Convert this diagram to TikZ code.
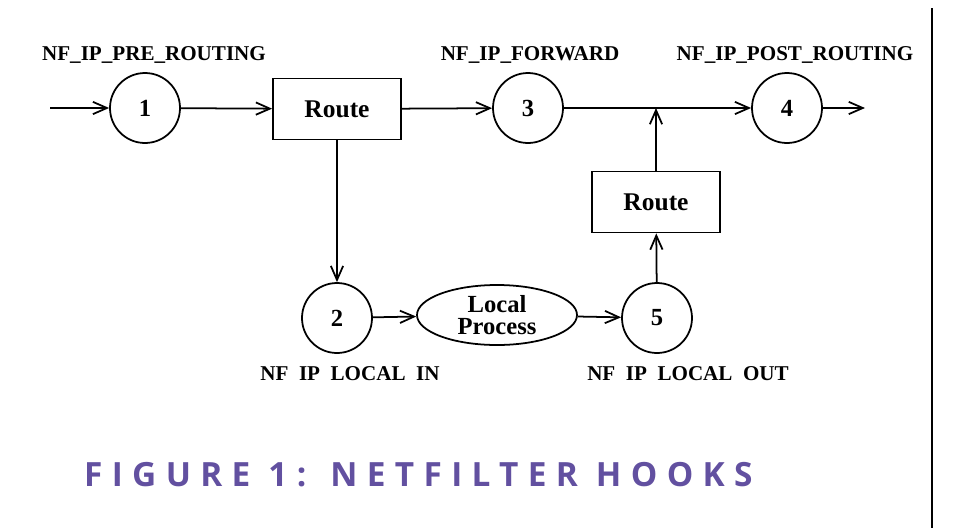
\documentclass[tikz,border=0pt]{standalone}
\usepackage{fontspec}
\setmainfont{Liberation Serif}
\newfontfamily\capfont[LetterSpace=28]{Open Sans}
\usetikzlibrary{shapes.geometric,arrows.meta}
\definecolor{capcol}{RGB}{98,80,160}
\begin{document}
\begin{tikzpicture}[x=0.02cm,y=-0.02cm,
  hook/.style={circle,draw,line width=1pt,minimum size=70*0.02cm,inner sep=0pt,font=\fontsize{14}{16}\selectfont\bfseries},
  rbox/.style={draw,line width=1pt,minimum width=128*0.02cm,minimum height=61*0.02cm,inner sep=0pt,font=\fontsize{14.5}{16}\selectfont\bfseries},
  lab/.style={font=\fontsize{12}{14}\selectfont\bfseries},
  arr/.style={line width=1pt,-{Straight Barb[length=8pt,width=7pt]}},
  ln/.style={line width=1pt}]
\useasboundingbox (0,0) rectangle (964,528);
\node[hook] (h1) at (145,108) {1};
\node[rbox] (r1) at (337,109) {Route};
\node[hook] (h3) at (528,108) {3};
\node[hook] (h4) at (787,108) {4};
\node[rbox] (r2) at (656,202) {Route};
\node[hook] (h2) at (337,318) {2};
\node[ellipse,draw,line width=1pt,minimum width=160*0.02cm,minimum height=60*0.02cm,inner sep=0pt,align=center,font=\fontsize{14}{13}\selectfont\bfseries] (lp) at (497,315) {Local\\Process};
\node[hook] (h5) at (657,318) {5};
\coordinate (in) at (50,108);
\coordinate (out) at (865,108);
\coordinate (j) at (656,108);
\node[lab] (l1) at (154,55) {NF\_IP\_PRE\_ROUTING};
\node[lab] (l3) at (530,55) {NF\_IP\_FORWARD};
\node[lab] (l4) at (795,55) {NF\_IP\_POST\_ROUTING};
\node[lab] (l2) at (350,374) {NF\ \ IP\ \ LOCAL\ \ IN};
\node[lab] (l5) at (688,374) {NF\ \ IP\ \ LOCAL\ \ OUT};
\node[text=capcol,font=\capfont\fontsize{19}{22}\selectfont\bfseries,anchor=west] (cap) at (78,475) {FIGURE 1: NETFILTER HOOKS};
\coordinate (vt) at (932,8);
\coordinate (vb) at (932,528);
\draw[line width=1pt] (vt) -- (vb);
\draw[arr] (in) -- (h1);
\draw[arr] (h1) -- (r1);
\draw[arr] (r1) -- (h3);
\draw[arr] (h3) -- (h4);
\draw[arr] (h4) -- (out);
\draw[arr] (r1) -- (h2);
\draw[arr] (h2) -- (lp);
\draw[arr] (lp) -- (h5);
\draw[arr] (h5) -- (r2);
\draw[arr] (r2) -- (j);
\end{tikzpicture}
\end{document}
